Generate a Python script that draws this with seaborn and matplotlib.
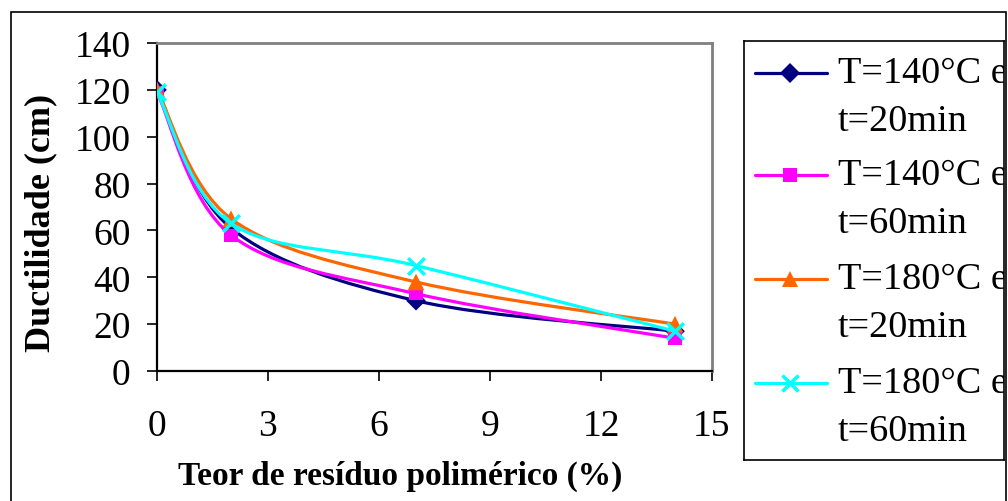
import numpy as np
import pandas as pd
import matplotlib
matplotlib.use("Agg")
import matplotlib.pyplot as plt
from matplotlib.path import Path
from matplotlib.patches import PathPatch, Rectangle
from matplotlib.lines import Line2D
import seaborn as sns

# ---- data ----
residue = [0, 2, 7, 14]
s_140_20 = [120, 61, 30, 17]
s_140_60 = [119, 58, 33, 14]
s_180_20 = [120, 65, 38, 20]
s_180_60 = [119, 63, 45, 17]
labels = ["T=140°C e\nt=20min", "T=140°C e\nt=60min",
          "T=180°C e\nt=20min", "T=180°C e\nt=60min"]
series = [s_140_20, s_140_60, s_180_20, s_180_60]
colors = ["#000080", "#FF00FF", "#FF6600", "#00FFFF"]
markers = ["D", "s", "^", "x"]
msizes = [10, 9.5, 12, 12]
xticks = [0, 3, 6, 9, 12, 15]
yticks = [0, 20, 40, 60, 80, 100, 120, 140]

sns.set_theme(style="white")
plt.rcParams["font.family"] = ["Liberation Serif", "DejaVu Serif"]

W, H = 1008, 502
fig = plt.figure(figsize=(W / 100, H / 100), dpi=100)


def px_axes(l, t, r, b):
    return [l / W, 1 - b / H, (r - l) / W, (b - t) / H]


# outer chart border
fig.patches.append(Rectangle((11 / W, -0.01), (1006 - 11) / W, 1 - 13 / H + 0.01,
                             transform=fig.transFigure, fill=False,
                             edgecolor="black", linewidth=1.2))

ax = fig.add_axes(px_axes(157, 44, 712, 372))
ax.set_xlim(0, 15)
ax.set_ylim(0, 140)


def smooth_path(xs, ys):
    P = np.column_stack([xs, ys]).astype(float)
    n = len(P)
    verts = [P[0]]
    codes = [Path.MOVETO]
    for i in range(n - 1):
        p0 = P[i - 1] if i > 0 else P[i]
        p1 = P[i]
        p2 = P[i + 1]
        p3 = P[i + 2] if i + 2 < n else P[i + 1]
        c1 = p1 + (p2 - p0) / 6.0
        c2 = p2 - (p3 - p1) / 6.0
        verts += [c1, c2, p2]
        codes += [Path.CURVE4] * 3
    return Path(verts, codes)


rows = []
for lab, vals in zip(labels, series):
    for x, y in zip(residue, vals):
        rows.append({"x": x, "y": y, "serie": lab})
df = pd.DataFrame(rows)

for k, (lab, vals, c, m, ms) in enumerate(zip(labels, series, colors, markers, msizes)):
    ax.add_patch(PathPatch(smooth_path(residue, vals), fill=False,
                           edgecolor=c, linewidth=2.3, zorder=2 + 2 * k))
    sub = df[df["serie"] == lab]
    sns.scatterplot(data=sub, x="x", y="y", ax=ax, marker=m, color=c,
                    s=ms ** 2, linewidth=2.5 if m == "x" else 0,
                    edgecolor=c if m == "x" else "none",
                    legend=False, zorder=3 + 2 * k)

ax.set_xticks(xticks)
ax.set_yticks(yticks)
ax.set_xticklabels([str(v) for v in xticks])
ax.set_yticklabels([str(v) for v in yticks])
ax.tick_params(axis="both", direction="out", length=7, width=1.2,
               color="black", labelsize=27, labelcolor="black",
               bottom=True, left=True)
ax.tick_params(axis="x", pad=20)
ax.tick_params(axis="y", pad=12)
for side in ["left", "bottom"]:
    ax.spines[side].set_color("black")
    ax.spines[side].set_linewidth(1.6)
for side in ["top", "right"]:
    ax.spines[side].set_color("#808080")
    ax.spines[side].set_linewidth(2)
ax.grid(False)

ax.set_xlabel("Teor de resíduo polimérico (%)", fontsize=24, fontweight="bold",
              color="black", va="center")
ax.xaxis.set_label_coords((400 - 157) / 555, -(476 - 372) / 328)
ax.set_ylabel("Ductilidade (cm)", fontsize=26, fontweight="bold",
              color="black", va="center")
ax.yaxis.set_label_coords(-(157 - 41) / 555, (372 - 223) / 328)

# legend box
lax = fig.add_axes(px_axes(744, 42, 1004, 461))
lax.set_xlim(0, 260)
lax.set_ylim(419, 0)
lax.set_xticks([])
lax.set_yticks([])
for sp in lax.spines.values():
    sp.set_color("black")
    sp.set_linewidth(1.2)
hy = [32, 134, 238, 342]
for y0, lab, c, m, ms in zip(hy, labels, colors, markers, msizes):
    lax.add_line(Line2D([11, 83], [y0, y0], color=c, linewidth=2.3))
    lax.add_line(Line2D([46], [y0], color=c, marker=m, markersize=ms,
                        markeredgewidth=2.5 if m == "x" else 0,
                        markeredgecolor=c, linestyle="none"))
    l1, l2 = lab.split("\n")
    lax.text(94, y0, l1, fontsize=27.5, va="center", ha="left", color="black",
             clip_on=True)
    lax.text(94, y0 + 48, l2, fontsize=27.5, va="center", ha="left", color="black",
             clip_on=True)

fig.savefig("out.png", dpi=100)
